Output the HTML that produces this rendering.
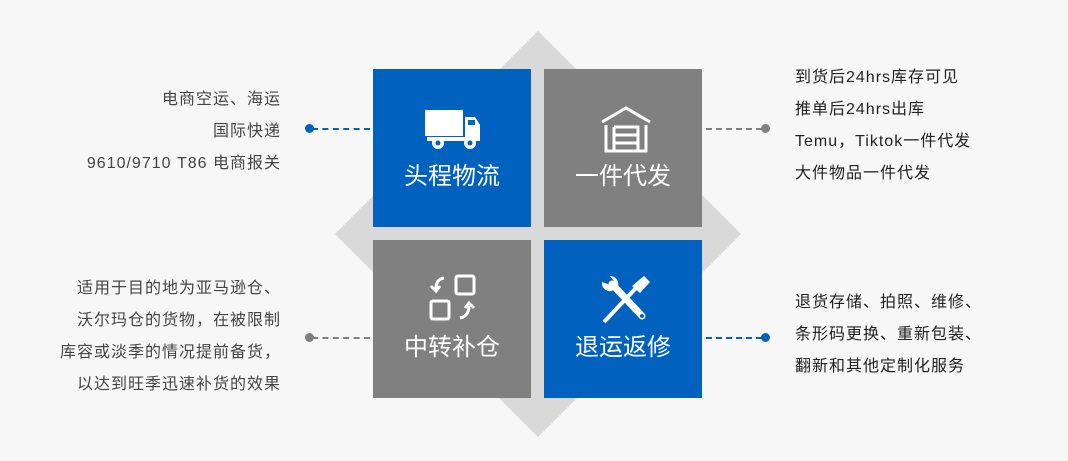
<!DOCTYPE html>
<html><head><meta charset="utf-8"><style>
body{margin:0;width:1068px;height:461px;background:#f7f7f7;position:relative;overflow:hidden;font-family:"Liberation Sans","Noto Sans CJK SC",sans-serif}
.a{position:absolute}
.sq{position:absolute;width:158px;height:158px}
.b{background:#0062be}.g{background:#808080}
.t{position:absolute;left:0;width:100%;top:93px;text-align:center;color:#fff;font-size:24px;line-height:30px}
.txt{position:absolute;font-size:16px;letter-spacing:1px;line-height:32px;white-space:nowrap}
.l{text-align:right;color:#444;right:787px}
.r{left:795px;color:#222}
.dl{position:absolute;height:0;border-top:2px dashed}
.dot{position:absolute;width:9px;height:9px;border-radius:50%}
</style></head><body>
<svg class="a" style="left:0;top:0" width="1068" height="461"><polygon points="538,31 741,234 538,437 335,234" fill="#d9d9d9"/></svg>

<div class="sq b" style="left:373px;top:69px">
<svg class="a" style="left:51px;top:40px" width="60" height="45"><rect x="1" y="1" width="38" height="26" fill="#fff"/><path d="M41 8h10l5 8v13H41z" fill="#fff"/><rect x="44" y="11" width="7" height="5" fill="#0062be"/><rect x="3" y="28" width="53" height="4" fill="#fff"/><circle cx="14" cy="34" r="6" fill="#fff"/><circle cx="14" cy="34" r="2.5" fill="#0062be"/><circle cx="46" cy="34" r="6" fill="#fff"/><circle cx="46" cy="34" r="2.5" fill="#0062be"/></svg>
<div class="t">头程物流</div></div>

<div class="sq g" style="left:544px;top:69px">
<svg class="a" style="left:56px;top:36px" width="52" height="48" fill="none" stroke="#fff" stroke-width="3"><path d="M2 17L26 3L50 17"/><path d="M6 20V46H46V20"/><path d="M14 22H38V46M14 22V46M14 30H38M14 38H38"/></svg>
<div class="t">一件代发</div></div>

<div class="sq g" style="left:373px;top:240px">
<svg class="a" style="left:55px;top:34px" width="52" height="52" fill="none" stroke="#fff" stroke-width="3"><rect x="28" y="2" width="18" height="18" rx="2"/><rect x="3" y="27" width="18" height="18" rx="2"/><path d="M16 4C10 5 8 9 8 15"/><path d="M3 12L8 17L12 12"/><path d="M32 44C38 43 41 38 41 32"/><path d="M37 34L41 29L46 34"/></svg>
<div class="t">中转补仓</div></div>

<div class="sq b" style="left:544px;top:240px">
<svg class="a" style="left:56px;top:36px" width="52" height="50"><path d="M4 46L36 12" stroke="#fff" stroke-width="4"/><path d="M32 10L44 0L50 6L40 17z" fill="#fff"/><path d="M12 8L42 40" stroke="#fff" stroke-width="7" stroke-linecap="round"/><circle cx="42" cy="40" r="2" fill="#0062be"/><path d="M2 6a8 8 0 0 0 12 8l3 3 4-4-3-3a8 8 0 0 0-8-10l4 5-4 4z" fill="#fff"/></svg>
<div class="t">退运返修</div></div>

<div class="txt l" style="top:84px">电商空运、海运<br>国际快递<br>9610/9710 T86 电商报关</div>
<div class="dot" style="left:305px;top:124px;background:#0062be"></div>
<div class="dl" style="left:312px;top:128px;width:58px;border-color:#0062be"></div>

<div class="txt r" style="top:62px">到货后24hrs库存可见<br>推单后24hrs出库<br>Temu，Tiktok一件代发<br>大件物品一件代发</div>
<div class="dot" style="left:761px;top:124px;background:#808080"></div>
<div class="dl" style="left:706px;top:128px;width:56px;border-color:#808080"></div>

<div class="txt l" style="top:273px">适用于目的地为亚马逊仓、<br>沃尔玛仓的货物，在被限制<br>库容或淡季的情况提前备货，<br>以达到旺季迅速补货的效果</div>
<div class="dot" style="left:305px;top:333px;background:#808080"></div>
<div class="dl" style="left:312px;top:337px;width:58px;border-color:#808080"></div>

<div class="txt r" style="top:287px">退货存储、拍照、维修、<br>条形码更换、重新包装、<br>翻新和其他定制化服务</div>
<div class="dot" style="left:761px;top:333px;background:#0062be"></div>
<div class="dl" style="left:706px;top:337px;width:56px;border-color:#0062be"></div>
</body></html>
